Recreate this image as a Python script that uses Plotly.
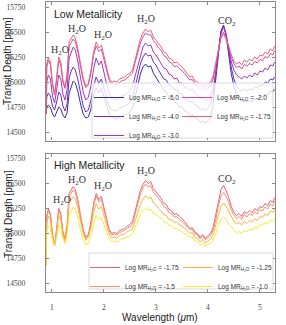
import plotly.graph_objects as go
from plotly.subplots import make_subplots

# ---------------- data ----------------
WAVELENGTH = [0.885, 0.90, 0.93, 0.97, 1.01, 1.05, 1.09, 1.13, 1.17, 1.21, 1.25, 1.29, 1.33, 1.37, 1.41, 1.45,
              1.50, 1.55, 1.60, 1.65, 1.70, 1.75, 1.80, 1.85, 1.90, 1.95, 2.00, 2.05, 2.10, 2.15, 2.20, 2.25,
              2.30, 2.35,
              2.40, 2.45, 2.50, 2.55, 2.60, 2.65, 2.70, 2.75, 2.80, 2.85, 2.90, 2.95,
              3.00, 3.05, 3.10, 3.15, 3.20, 3.25, 3.30, 3.35, 3.40, 3.45, 3.50, 3.55, 3.60, 3.65, 3.70, 3.75,
              3.80, 3.85, 3.90, 3.95,
              4.00, 4.05, 4.10, 4.15, 4.20, 4.25, 4.30, 4.35, 4.40, 4.45, 4.50, 4.55, 4.60, 4.65, 4.70, 4.75,
              4.80, 4.85, 4.90, 4.95,
              5.00, 5.05, 5.10, 5.15, 5.20, 5.25, 5.28]

MR_M5_00 = [14680, 14740, 14770, 14750, 14680, 14650, 14700, 14750, 14730, 14670, 14640, 14690, 14890, 14960, 15010, 14990,
            14900, 14780, 14680, 14640, 14650, 14730, 14870, 14940, 14890, 14940, 14860, 14770, 14690, 14650, 14640, 14630,
            14650, 14660,
            14670, 14680, 14700, 14740, 14850, 14960, 15080, 15150, 15180, 15150, 15160, 15090,
            15050, 15010, 14970, 14920, 14900, 14850, 14840, 14800, 14790, 14750, 14750, 14710, 14700, 14670, 14670, 14640,
            14630, 14600, 14610, 14590,
            14610, 14650, 14780, 15020, 15310, 15510, 15570, 15470, 15270, 15080, 14960, 14880, 14840, 14820, 14820, 14800,
            14810, 14800, 14830, 14820,
            14850, 14850, 14880, 14870, 14910, 14900, 14930]

MR_M4_00 = [14680, 14850, 14890, 14860, 14760, 14720, 14800, 14900, 14870, 14760, 14710, 14780, 15040, 15110, 15150, 15120,
            15020, 14880, 14760, 14700, 14720, 14820, 14960, 15050, 14990, 15030, 14920, 14840, 14760, 14720, 14720, 14710,
            14740, 14750,
            14760, 14770, 14800, 14840, 14950, 15060, 15180, 15250, 15290, 15260, 15270, 15200,
            15170, 15120, 15080, 15030, 15020, 14970, 14960, 14920, 14930, 14880, 14880, 14840, 14830, 14800, 14810, 14770,
            14760, 14720, 14740, 14710,
            14740, 14780, 14880, 15080, 15320, 15500, 15560, 15480, 15310, 15140, 15030, 14960, 14930, 14910, 14930, 14910,
            14930, 14920, 14950, 14940,
            14970, 14960, 15000, 14990, 15030, 15020, 15050]

MR_M3_00 = [14680, 15000, 15070, 15030, 14860, 14790, 14920, 15070, 15030, 14880, 14820, 14920, 15240, 15300, 15350, 15320,
            15200, 15040, 14900, 14820, 14850, 14960, 15130, 15240, 15170, 15210, 15080, 14980, 14880, 14830, 14830, 14820,
            14850, 14860,
            14870, 14890, 14920, 14950, 15060, 15160, 15280, 15350, 15390, 15360, 15370, 15300,
            15270, 15230, 15190, 15140, 15130, 15080, 15070, 15030, 15040, 14990, 14990, 14950, 14940, 14920, 14930, 14890,
            14870, 14830, 14840, 14810,
            14830, 14860, 14940, 15100, 15310, 15480, 15550, 15470, 15330, 15200, 15120, 15070, 15050, 15030, 15060, 15040,
            15070, 15050, 15090, 15070,
            15110, 15100, 15140, 15120, 15170, 15160, 15200]

MR_M2_00 = [14680, 15150, 15215, 15170, 14970, 14870, 15020, 15220, 15170, 14995, 14935, 15050, 15360, 15395, 15430, 15400,
            15295, 15150, 15020, 14945, 14970, 15090, 15265, 15360, 15305, 15330, 15215, 15120, 15015, 14980, 14985, 14975,
            15000, 15015,
            15020, 15045, 15065, 15090, 15195, 15285, 15390, 15450, 15490, 15470, 15475, 15415,
            15385, 15340, 15315, 15265, 15250, 15205, 15190, 15155, 15160, 15135, 15115, 15085, 15050, 15020, 15025, 14975,
            14965, 14925, 14950, 14915,
            14945, 14965, 15030, 15160, 15320, 15450, 15500, 15440, 15345, 15245, 15180, 15145, 15160, 15130, 15175, 15160,
            15185, 15170, 15205, 15190,
            15225, 15215, 15255, 15240, 15285, 15270, 15310]

MR_M1_75 = [14680, 15180, 15245, 15200, 14990, 14880, 15050, 15250, 15200, 15020, 14950, 15080, 15400, 15430, 15470, 15440,
            15330, 15180, 15040, 14960, 14990, 15120, 15300, 15400, 15340, 15370, 15250, 15150, 15040, 15000, 15010, 15000,
            15030, 15040,
            15050, 15075, 15090, 15120, 15230, 15320, 15430, 15490, 15530, 15500, 15520, 15450,
            15420, 15380, 15350, 15300, 15290, 15240, 15230, 15190, 15200, 15170, 15150, 15120, 15090, 15050, 15060, 15010,
            15000, 14960, 14990, 14950,
            14980, 15000, 15060, 15180, 15330, 15440, 15480, 15430, 15360, 15270, 15210, 15180, 15200, 15170, 15220, 15200,
            15230, 15210, 15250, 15230,
            15270, 15260, 15300, 15280, 15330, 15310, 15360]

MR_M1_50 = [14680, 15160, 15225, 15180, 14980, 14875, 15035, 15230, 15180, 15005, 14940, 15060, 15370, 15400, 15435, 15405,
            15305, 15160, 15025, 14950, 14975, 15100, 15275, 15375, 15315, 15345, 15230, 15130, 15025, 14985, 14995, 14985,
            15010, 15020,
            15030, 15055, 15065, 15095, 15195, 15290, 15395, 15455, 15495, 15465, 15480, 15415,
            15385, 15345, 15315, 15270, 15255, 15210, 15200, 15165, 15170, 15140, 15125, 15095, 15070, 15040, 15045, 14995,
            14985, 14945, 14975, 14935,
            14960, 14980, 15030, 15135, 15275, 15375, 15410, 15370, 15310, 15230, 15185, 15150, 15170, 15140, 15190, 15165,
            15200, 15180, 15220, 15195,
            15240, 15225, 15265, 15245, 15295, 15275, 15320]

MR_M1_25 = [14680, 15110, 15175, 15135, 14960, 14880, 15010, 15180, 15135, 14985, 14920, 15030, 15310, 15335, 15370, 15340,
            15250, 15120, 15000, 14935, 14960, 15060, 15210, 15300, 15245, 15270, 15170, 15085, 14995, 14955, 14965, 14955,
            14980, 14990,
            14995, 15020, 15030, 15050, 15130, 15200, 15290, 15345, 15380, 15350, 15365, 15305,
            15285, 15250, 15225, 15185, 15180, 15140, 15135, 15110, 15115, 15085, 15075, 15050, 15030, 15000, 15010, 14960,
            14950, 14915, 14940, 14905,
            14925, 14945, 14985, 15070, 15180, 15270, 15305, 15270, 15220, 15160, 15125, 15095, 15110, 15085, 15120, 15100,
            15130, 15115, 15150, 15130,
            15170, 15160, 15195, 15180, 15225, 15210, 15250]

MR_M1_00 = [14680, 15020, 15080, 15050, 14930, 14880, 14960, 15090, 15050, 14950, 14900, 14970, 15180, 15220, 15265, 15240,
            15150, 15030, 14940, 14890, 14905, 14980, 15100, 15180, 15140, 15160, 15080, 15010, 14950, 14920, 14925, 14915,
            14935, 14945,
            14950, 14965, 14975, 14995, 15055, 15120, 15190, 15230, 15250, 15235, 15240, 15200,
            15190, 15170, 15150, 15120, 15115, 15080, 15075, 15050, 15055, 15030, 15020, 15000, 14985, 14960, 14965, 14925,
            14915, 14885, 14905, 14875,
            14890, 14905, 14935, 14995, 15080, 15140, 15165, 15145, 15100, 15060, 15030, 15010, 15020, 15000, 15030, 15015,
            15045, 15030, 15065, 15050,
            15090, 15080, 15110, 15095, 15130, 15120, 15150]

LOW_LABELS = ["-5.0", "-4.0", "-3.0", "-2.0", "-1.75"]
LOW_SERIES = [MR_M5_00, MR_M4_00, MR_M3_00, MR_M2_00, MR_M1_75]
HIGH_LABELS = ["-1.75", "-1.5", "-1.25", "-1.0"]
HIGH_SERIES = [MR_M1_75, MR_M1_50, MR_M1_25, MR_M1_00]

Y_TICKS = [14500, 14750, 15000, 15250, 15500, 15750]
X_TICKS = [1, 2, 3, 4, 5]

LOW_FEATURES = [("H<sub>2</sub>O", 1.15, 15320), ("H<sub>2</sub>O", 1.48, 15525), ("H<sub>2</sub>O", 1.98, 15470),
                ("H<sub>2</sub>O", 2.81, 15625), ("CO<sub>2</sub>", 4.36, 15605)]
HIGH_FEATURES = [("H<sub>2</sub>O", 1.19, 15330), ("H<sub>2</sub>O", 1.48, 15530), ("H<sub>2</sub>O", 1.98, 15470),
                 ("H<sub>2</sub>O", 2.81, 15625), ("CO<sub>2</sub>", 4.36, 15545)]

# ---------------- styles ----------------
LOW_COLORS = ["#33309e", "#6a2bc8", "#a235c4", "#d24c9e", "#e9627a"]
HIGH_COLORS = ["#e9627a", "#f5906a", "#fbb345", "#f1ee2e"]
SERIF = "Liberation Serif"
SANS = "Liberation Sans"
FRAME = "#8a8a8a"

fig = make_subplots(rows=2, cols=1, vertical_spacing=13 / 290)


def label(v):
    return "Log MR<sub>H₂O</sub> = " + v


for i, (lab, ys) in enumerate(zip(LOW_LABELS, LOW_SERIES)):
    fig.add_trace(go.Scatter(x=WAVELENGTH, y=ys, mode="lines", name=label(lab),
                             line=dict(color=LOW_COLORS[i], width=1),
                             legend="legend" if i < 3 else "legend2"), row=1, col=1)

for i, (lab, ys) in enumerate(zip(HIGH_LABELS, HIGH_SERIES)):
    fig.add_trace(go.Scatter(x=WAVELENGTH, y=ys, mode="lines", name=label(lab),
                             line=dict(color=HIGH_COLORS[i], width=1),
                             legend="legend3" if i < 2 else "legend4"), row=2, col=1)

axis_common = dict(showline=True, mirror="allticks", linecolor=FRAME, linewidth=1.3,
                   ticks="inside", ticklen=3, tickcolor=FRAME, showgrid=False, zeroline=False,
                   automargin=False, tickfont=dict(family=SERIF, size=7.5, color="#444"))

for r in (1, 2):
    fig.update_xaxes(range=[0.885, 5.29], tickvals=X_TICKS, row=r, col=1, **axis_common)
    fig.update_yaxes(range=[14415, 15800], tickvals=Y_TICKS, tickformat="d", ticklabelstandoff=18,
                     row=r, col=1, **axis_common)
fig.update_xaxes(showticklabels=False, row=1, col=1)
fig.update_xaxes(ticklabelstandoff=8, row=2, col=1)


def px_x(p):
    return (p - 46) / 229


def px_y(p):
    return (292 - p) / 290


annotations = []
for txt, x, y in LOW_FEATURES:
    annotations.append(dict(text=txt, x=x, y=y, xref="x", yref="y", showarrow=False,
                            font=dict(family=SERIF, size=10, color="#333")))
for txt, x, y in HIGH_FEATURES:
    annotations.append(dict(text=txt, x=x, y=y, xref="x2", yref="y2", showarrow=False,
                            font=dict(family=SERIF, size=10, color="#333")))

annotations += [
    dict(text="Low Metallicity", x=px_x(52), y=px_y(13.5), xref="paper", yref="paper",
         xanchor="left", yanchor="middle", showarrow=False, font=dict(family=SANS, size=10.5, color="#222")),
    dict(text="High Metallicity", x=px_x(52), y=px_y(165), xref="paper", yref="paper",
         xanchor="left", yanchor="middle", showarrow=False, font=dict(family=SANS, size=10.5, color="#222")),
    dict(text="Transit Depth [ppm]", x=px_x(8), y=px_y(61), xref="paper", yref="paper", showarrow=False,
         xanchor="center", yanchor="middle", textangle=-90, font=dict(family=SANS, size=10, color="#222")),
    dict(text="Transit Depth [ppm]", x=px_x(8), y=px_y(214), xref="paper", yref="paper", showarrow=False,
         xanchor="center", yanchor="middle", textangle=-90, font=dict(family=SANS, size=10, color="#222")),
    dict(text="Wavelength (<i>μ</i>m)", x=px_x(160), y=px_y(317), xref="paper", yref="paper",
         showarrow=False, xanchor="center", yanchor="middle", font=dict(family=SANS, size=10, color="#222")),
]

leg_font = dict(family=SANS, size=6.5, color="#333")
leg_common = dict(bgcolor="rgba(0,0,0,0)", borderwidth=0, font=leg_font, xanchor="left", yanchor="top",
                  itemwidth=30, tracegroupgap=0)

fig.update_layout(
    width=286, height=325,
    margin=dict(l=46, r=11, t=2, b=33, autoexpand=False),
    paper_bgcolor="white", plot_bgcolor="white",
    showlegend=True,
    legend=dict(x=px_x(89), y=px_y(83), **leg_common),
    legend2=dict(x=px_x(177), y=px_y(83), **leg_common),
    legend3=dict(x=px_x(85), y=px_y(253), **leg_common),
    legend4=dict(x=px_x(178), y=px_y(253), **leg_common),
    annotations=annotations,
    shapes=[
        dict(type="rect", xref="paper", yref="paper", x0=px_x(92), x1=px_x(273), y0=px_y(83), y1=px_y(138),
             fillcolor="rgba(255,255,255,0.8)", line=dict(color="#d0d0d0", width=0.8), layer="above"),
        dict(type="rect", xref="paper", yref="paper", x0=px_x(89), x1=px_x(273), y0=px_y(253), y1=px_y(289),
             fillcolor="rgba(255,255,255,0.8)", line=dict(color="#d0d0d0", width=0.8), layer="above"),
    ],
)

fig.write_html("out.html", config={"displayModeBar": False},
               post_script="document.body.style.margin='0';")
